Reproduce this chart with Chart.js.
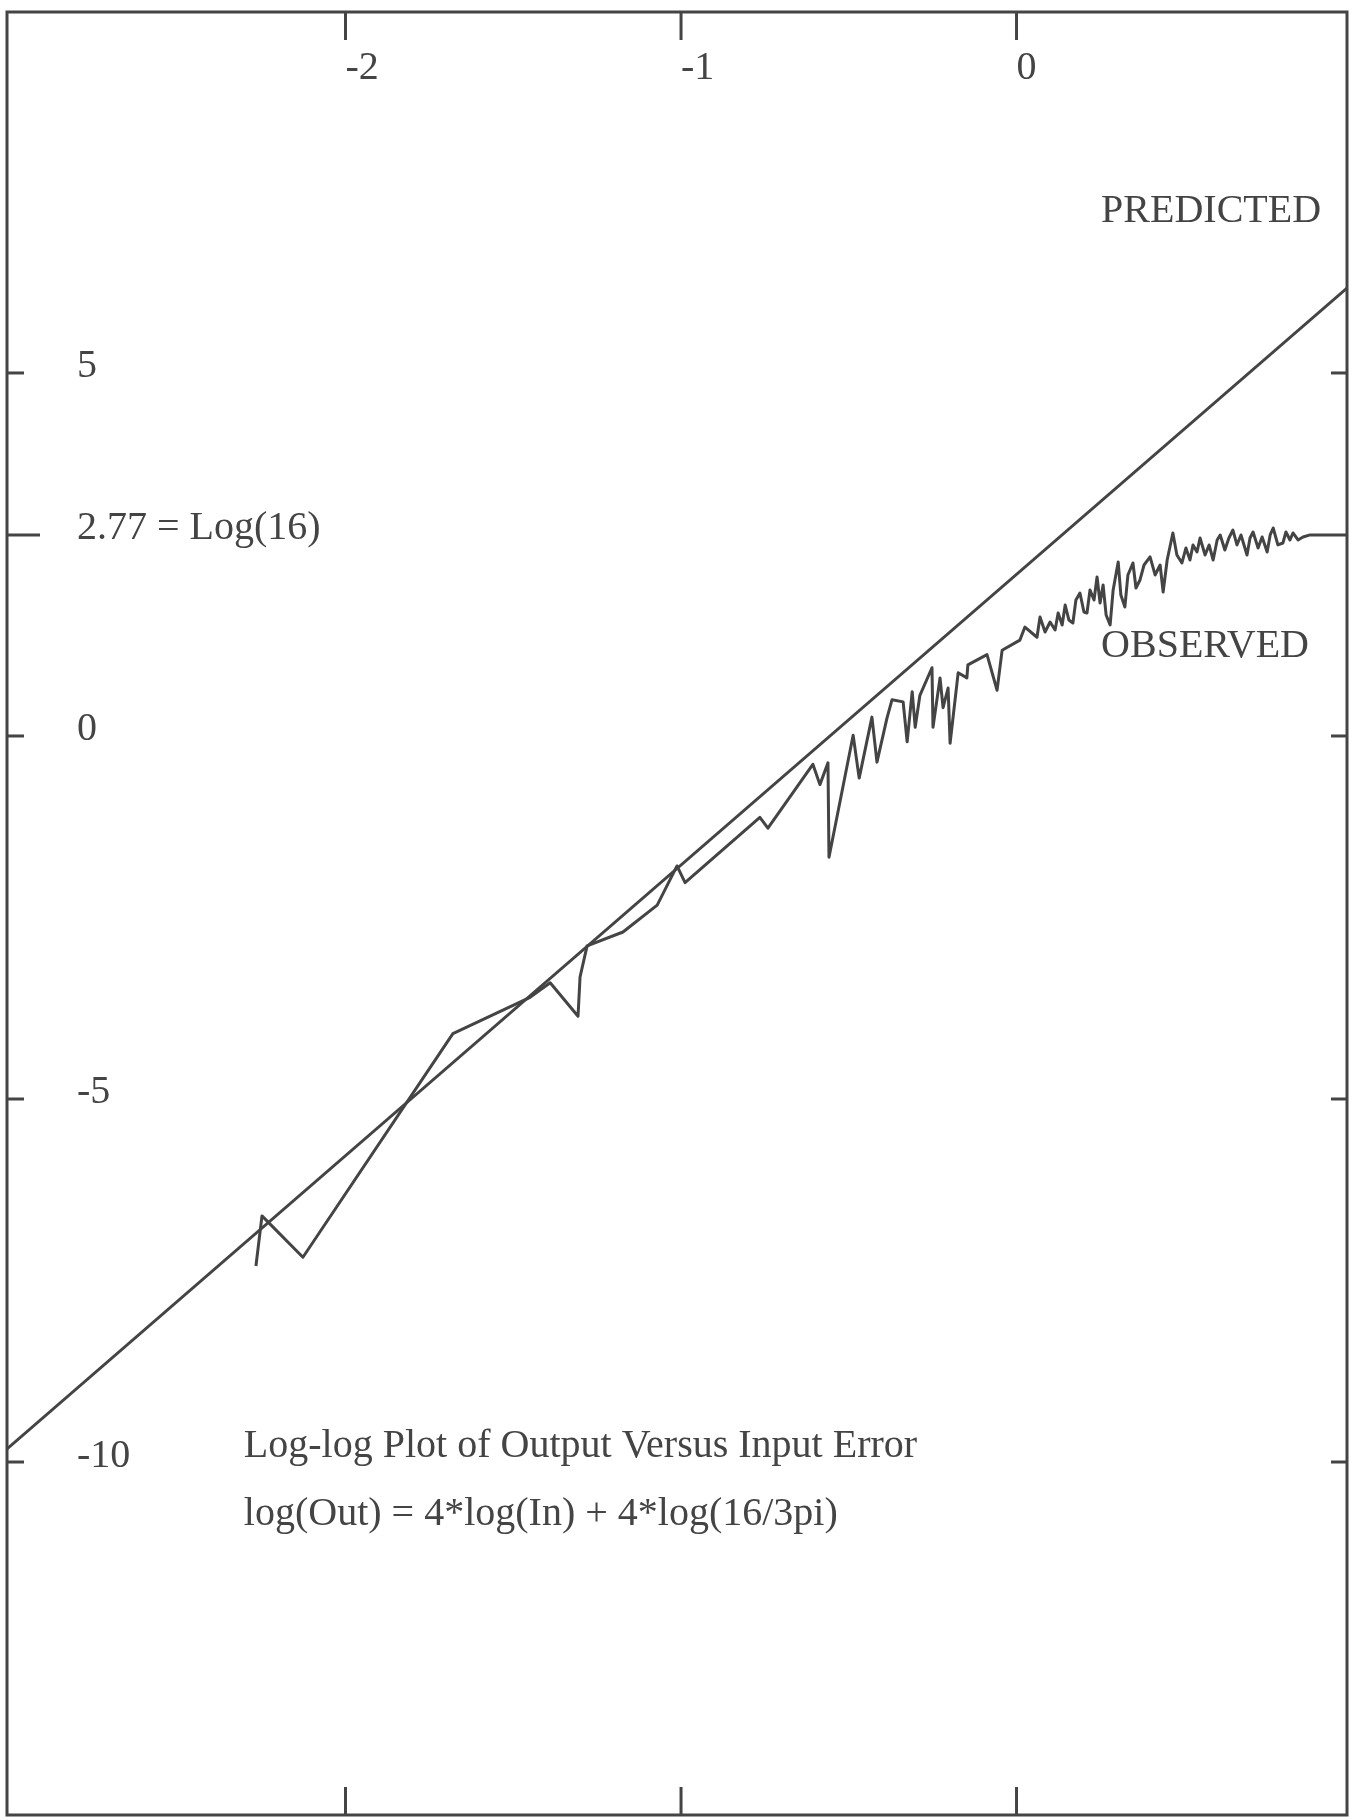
<!DOCTYPE html>
<html><head><meta charset="utf-8">
<script src="https://cdn.jsdelivr.net/npm/chart.js@4.4.1/dist/chart.umd.min.js"></script>
<style>html,body{margin:0;padding:0;background:#fff}#wrap{width:1362px;height:1820px;position:relative}</style>
</head><body><div id="wrap"><canvas id="c"></canvas></div>
<script>
const xTickValues = [-2, -1, 0];
const xTickLabels = ['-2', '-1', '0'];
const yTickValues = [5, 2.77, 0, -5, -10];
const yTickLabels = ['5', '2.77 = Log(16)', '0', '-5', '-10'];
const predictedX = [-3.009, 0.985];
const predictedY = [-9.82, 6.17];
const observedX = [-2.267,-2.249,-2.127,-1.680,-1.450,-1.390,-1.307,-1.301,-1.280,-1.173,-1.071,-1.012,-0.988,-0.765,-0.741,-0.607,-0.586,-0.562,-0.559,-0.487,-0.469,-0.431,-0.416,-0.386,-0.371,-0.338,-0.326,-0.311,-0.302,-0.288,-0.252,-0.249,-0.228,-0.219,-0.204,-0.198,-0.174,-0.148,-0.145,-0.088,-0.058,-0.043,0.010,0.025,0.061,
 0.070,0.085,0.100,0.115,0.124,0.136,0.145,0.156,0.168,0.177,0.189,0.201,0.210,0.219,0.231,0.240,0.249,0.258,0.267,0.279,0.288,0.303,0.311,0.323,0.332,0.347,0.356,0.368,0.380,0.398,0.413,0.428,0.437,0.449,0.466,0.478,0.493,0.505,0.517,0.526,0.538,0.547,0.562,0.574,0.586,0.598,0.607,0.621,0.633,0.645,0.657,0.669,0.687,0.696,0.705,0.720,0.732,0.747,0.756,0.765,0.779,0.794,0.803,0.815,0.824,0.839,0.854,0.875,0.985];
const observedY = [-7.30,-6.61,-7.18,-4.10,-3.60,-3.40,-3.86,-3.32,-2.89,-2.70,-2.33,-1.79,-2.02,-1.12,-1.27,-0.39,-0.67,-0.37,-1.67,0.01,-0.58,0.26,-0.36,0.25,0.50,0.47,-0.08,0.61,0.12,0.56,0.94,0.12,0.80,0.39,0.66,-0.10,0.87,0.80,0.98,1.12,0.63,1.18,1.32,1.50,1.36,
 1.639,1.432,1.570,1.460,1.694,1.529,1.804,1.598,1.556,1.873,1.970,1.708,1.694,2.011,1.873,2.190,1.832,2.080,1.667,1.529,2.011,2.397,1.942,1.777,2.218,2.383,2.039,2.149,2.355,2.466,2.218,2.355,1.983,2.424,2.796,2.493,2.383,2.590,2.424,2.631,2.534,2.727,2.493,2.631,2.424,2.700,2.769,2.562,2.727,2.837,2.631,2.769,2.493,2.727,2.810,2.590,2.741,2.534,2.769,2.865,2.631,2.658,2.810,2.700,2.796,2.700,2.741,2.77,2.77];
const seriesNames = ['PREDICTED', 'OBSERVED'];
const titleLines = ['Log-log Plot of Output Versus Input Error', 'log(Out) = 4*log(In) + 4*log(16/3pi)'];

// placement of the free text, in data units
const textAnchors = {
  PREDICTED: { x: 0.252, y: 7.22 },
  OBSERVED: { x: 0.252, y: 1.23 },
  title: { x: -2.303, y: -9.78 },
  formula: { x: -2.303, y: -10.72 }
};

const ink = '#444444';
const FONT = '40px "Liberation Serif", "Times New Roman", serif';

const framePlugin = {
  id: 'frame',
  afterDraw(chart) {
    const { ctx, chartArea: a, scales: { x, y } } = chart;
    ctx.save();
    ctx.strokeStyle = ink;
    ctx.fillStyle = ink;
    ctx.lineWidth = 3;
    ctx.lineCap = 'butt';
    ctx.strokeRect(a.left, a.top, a.right - a.left, a.bottom - a.top);
    const seg = (x1, y1, x2, y2) => { ctx.beginPath(); ctx.moveTo(x1, y1); ctx.lineTo(x2, y2); ctx.stroke(); };
    ctx.font = FONT;
    ctx.textBaseline = 'middle';
    ctx.textAlign = 'left';
    xTickValues.forEach((v, i) => {
      const px = x.getPixelForValue(v);
      seg(px, a.top, px, a.top + 28);
      seg(px, a.bottom, px, a.bottom - 28);
      ctx.fillText(xTickLabels[i], px, a.top + 56);
    });
    yTickValues.forEach((v, i) => {
      const py = y.getPixelForValue(v);
      const len = (v === 2.77) ? 33 : 17;
      seg(a.left, py, a.left + len, py);
      if (v !== 2.77) seg(a.right, py, a.right - 16, py);
      ctx.fillText(yTickLabels[i], a.left + 70, py - 6);
    });
    const put = (txt, pos) => ctx.fillText(txt, x.getPixelForValue(pos.x), y.getPixelForValue(pos.y));
    put(seriesNames[0], textAnchors.PREDICTED);
    put(seriesNames[1], textAnchors.OBSERVED);
    put(titleLines[0], textAnchors.title);
    put(titleLines[1], textAnchors.formula);
    ctx.restore();
  }
};

const lineStyle = { borderColor: ink, backgroundColor: ink, borderWidth: 3, pointRadius: 0, pointHoverRadius: 0, tension: 0, fill: false, borderJoinStyle: 'round', borderCapStyle: 'butt' };

new Chart(document.getElementById('c'), {
  type: 'line',
  data: {
    datasets: [
      Object.assign({ label: seriesNames[0], data: predictedX.map((v, i) => ({ x: v, y: predictedY[i] })) }, lineStyle),
      Object.assign({ label: seriesNames[1], data: observedX.map((v, i) => ({ x: v, y: observedY[i] })) }, lineStyle)
    ]
  },
  options: {
    responsive: true,
    maintainAspectRatio: false,
    animation: false,
    events: [],
    layout: { padding: { left: 7, top: 12, right: 15, bottom: 5 } },
    plugins: { legend: { display: false }, tooltip: { enabled: false }, title: { display: false }, colors: { enabled: false } },
    scales: {
      x: { type: 'linear', min: -3.009, max: 0.985, display: false },
      y: { type: 'linear', min: -14.862, max: 9.972, display: false }
    }
  },
  plugins: [framePlugin]
});
</script>
</body></html>
